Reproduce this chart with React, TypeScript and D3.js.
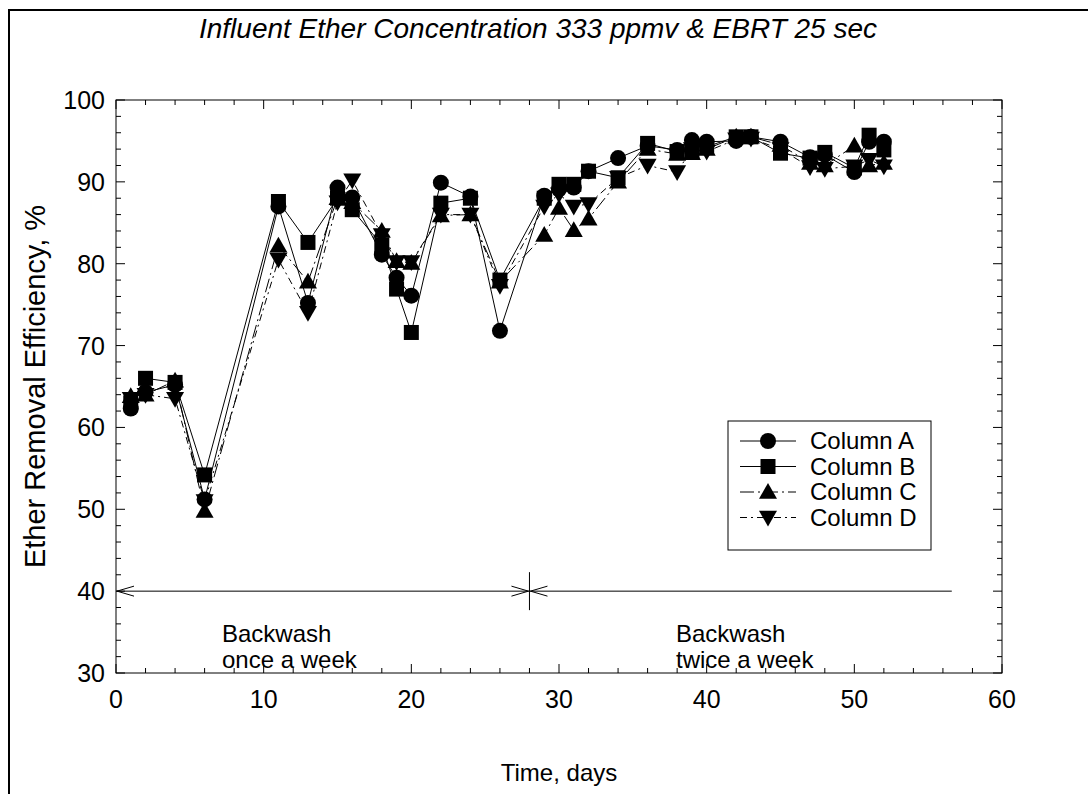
import React from "react";
import * as d3 from "d3";

const days = [1, 2, 4, 6, 11, 13, 15, 16, 18, 19, 20, 22, 24, 26, 29, 30, 31, 32, 34, 36, 38, 39, 40, 42, 43, 45, 47, 48, 50, 51, 52];
const colA = [62.3, 64.3, 65.2, 51.2, 87.0, 75.2, 89.3, 88.1, 81.1, 78.3, 76.1, 89.9, 88.2, 71.8, 88.3, 89.1, 89.3, 91.3, 92.9, 94.4, 93.9, 95.1, 94.9, 95.0, 95.5, 94.9, 93.0, 93.3, 91.2, 94.9, 94.9];
const colB = [63.0, 66.0, 65.5, 54.2, 87.6, 82.6, 88.0, 86.6, 82.3, 76.9, 71.6, 87.4, 88.0, 78.0, 88.0, 89.7, 89.7, 91.3, 90.5, 94.7, 93.7, 93.7, 94.3, 95.5, 95.5, 93.5, 92.9, 93.6, 91.7, 95.7, 93.9];
const colC = [63.8, 64.0, 65.7, 49.8, 82.2, 77.8, 88.0, 87.5, 84.0, 80.3, 80.1, 85.9, 86.0, 77.8, 83.5, 86.8, 84.1, 85.5, 90.0, 94.0, 93.4, 93.5, 94.0, 95.5, 95.5, 94.5, 92.3, 92.0, 94.4, 92.0, 92.3];
const colD = [63.5, 64.0, 63.5, 51.0, 80.5, 74.0, 87.5, 90.2, 83.5, 80.2, 80.2, 86.0, 86.0, 77.3, 87.0, 88.5, 87.0, 87.3, 90.5, 92.0, 91.2, 94.0, 93.7, 95.2, 95.3, 94.0, 91.8, 91.6, 91.9, 92.7, 91.9];
const seriesNames = ["Column A", "Column B", "Column C", "Column D"];
const seriesValues = [colA, colB, colC, colD];
const seriesMarkers = ["circle", "square", "up", "down"];
const seriesDash = ["none", "none", "14 4 2 4", "7 4 2 4"];
const xTicks = [0, 10, 20, 30, 40, 50, 60];
const yTicks = [30, 40, 50, 60, 70, 80, 90, 100];

const W = 1088, H = 794;
const L = 116, R = 1002, T = 100, B = 673;
const font = "'Liberation Sans', Arial, sans-serif";

function Marker({ type, cx, cy }: { type: string; cx: number; cy: number }) {
  if (type === "circle") return <circle cx={cx} cy={cy} r={8} fill="#000" />;
  if (type === "square") return <rect x={cx - 7.5} y={cy - 7.5} width={15} height={15} fill="#000" />;
  const s = 9;
  if (type === "up")
    return <path d={`M${cx},${cy - s}L${cx + s},${cy + s * 0.75}L${cx - s},${cy + s * 0.75}Z`} fill="#000" />;
  return <path d={`M${cx},${cy + s}L${cx + s},${cy - s * 0.75}L${cx - s},${cy - s * 0.75}Z`} fill="#000" />;
}

export default function App() {
  const x = d3.scaleLinear().domain([0, 60]).range([L, R]);
  const y = d3.scaleLinear().domain([30, 100]).range([B, T]);
  const line = d3.line<[number, number]>().x((d) => x(d[0])).y((d) => y(d[1]));
  const xMinor = d3.range(0, 61, 2);
  const yMinor = d3.range(30, 101, 2);

  const yArrow = y(40);
  const xSplit = x(28);
  const xEnd = x(56.6);

  return (
    <svg width={W} height={H} style={{ display: "block", position: "absolute", left: 0, top: 0 }}>
      <rect x={0} y={0} width={W} height={H} fill="#fff" />
      <rect x={9} y={10} width={1200} height={900} fill="none" stroke="#000" strokeWidth={2} />
      <text x={538} y={38} textAnchor="middle" fontFamily={font} fontStyle="italic" fontSize={28}>
        Influent Ether Concentration 333 ppmv &amp; EBRT 25 sec
      </text>
      <rect x={L} y={T} width={R - L} height={B - T} fill="none" stroke="#000" strokeWidth={1} />
      {xMinor.map((v) => {
        const major = v % 10 === 0;
        const len = major ? 9 : 5;
        return (
          <g key={"xt" + v}>
            <line x1={x(v)} x2={x(v)} y1={B} y2={B - len} stroke="#000" />
            <line x1={x(v)} x2={x(v)} y1={T} y2={T + len} stroke="#000" />
          </g>
        );
      })}
      {yMinor.map((v) => {
        const major = v % 10 === 0;
        const len = major ? 9 : 5;
        return (
          <g key={"yt" + v}>
            <line x1={L} x2={L + len} y1={y(v)} y2={y(v)} stroke="#000" />
            <line x1={R} x2={R - len} y1={y(v)} y2={y(v)} stroke="#000" />
          </g>
        );
      })}
      {xTicks.map((v) => (
        <text key={"xl" + v} x={x(v)} y={B + 35} textAnchor="middle" fontFamily={font} fontSize={25}>
          {v}
        </text>
      ))}
      {yTicks.map((v) => (
        <text key={"yl" + v} x={L - 11} y={y(v) + 9} textAnchor="end" fontFamily={font} fontSize={25}>
          {v}
        </text>
      ))}
      <text x={(L + R) / 2} y={781} textAnchor="middle" fontFamily={font} fontSize={24}>
        Time, days
      </text>
      <text
        transform={`translate(45,${(T + B) / 2}) rotate(-90)`}
        textAnchor="middle"
        fontFamily={font}
        fontSize={29}
      >
        Ether Removal Efficiency, %
      </text>
      <line x1={L} x2={xEnd} y1={yArrow} y2={yArrow} stroke="#000" />
      <line x1={xSplit} x2={xSplit} y1={yArrow - 19} y2={yArrow + 19} stroke="#000" />
      <path d={`M${L + 18},${yArrow - 5}L${L + 1},${yArrow}L${L + 18},${yArrow + 5}`} fill="none" stroke="#000" />
      <path d={`M${xSplit - 18},${yArrow - 5}L${xSplit - 1},${yArrow}L${xSplit - 18},${yArrow + 5}`} fill="none" stroke="#000" />
      <path d={`M${xSplit + 18},${yArrow - 5}L${xSplit + 1},${yArrow}L${xSplit + 18},${yArrow + 5}`} fill="none" stroke="#000" />
      <text x={222} y={642} fontFamily={font} fontSize={24}>Backwash</text>
      <text x={222} y={668} fontFamily={font} fontSize={24}>once a week</text>
      <text x={676} y={642} fontFamily={font} fontSize={24}>Backwash</text>
      <text x={676} y={668} fontFamily={font} fontSize={24}>twice a week</text>
      {seriesValues.map((vals, i) => {
        const pts: [number, number][] = days.map((d, j) => [d, vals[j]]);
        return (
          <g key={"s" + i}>
            <path d={line(pts) || ""} fill="none" stroke="#000" strokeWidth={1} strokeDasharray={seriesDash[i]} />
            {pts.map((p, j) => (
              <Marker key={j} type={seriesMarkers[i]} cx={x(p[0])} cy={y(p[1])} />
            ))}
          </g>
        );
      })}
      <rect x={728} y={421} width={203} height={129} fill="#fff" stroke="#000" strokeWidth={1} />
      {seriesNames.map((n, i) => {
        const ly = 441 + i * 25.5;
        return (
          <g key={"lg" + i}>
            <line x1={740} x2={796} y1={ly} y2={ly} stroke="#000" strokeDasharray={seriesDash[i]} />
            <Marker type={seriesMarkers[i]} cx={768} cy={ly} />
            <text x={810} y={ly + 8} fontFamily={font} fontSize={24}>
              {n}
            </text>
          </g>
        );
      })}
    </svg>
  );
}
